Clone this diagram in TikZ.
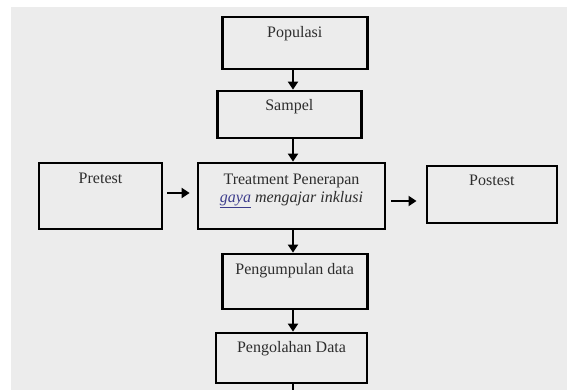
\documentclass[tikz,border=0pt]{standalone}
\usepackage{fontspec}
\setmainfont{Liberation Serif}
\usetikzlibrary{arrows.meta}
\definecolor{bgpage}{RGB}{236,236,236}
\definecolor{txtgray}{RGB}{45,45,45}
\definecolor{spellblue}{RGB}{60,60,140}
\begin{document}
\begin{tikzpicture}[x=1pt,y=-1pt,
	box/.style={draw=black,line width=2.8pt,rectangle,inner sep=0pt},
	boxtext/.style={anchor=north,inner sep=0pt,yshift=-11pt,text=txtgray,font=\fontsize{16}{18.5}\selectfont,align=center},
	arr/.style={line width=2.8pt,-{Triangle[length=8pt,width=10pt]}}]
			% Page
			\useasboundingbox (0,0) rectangle (567,390);
			\fill [bgpage] (11,7) rectangle (567,390);
			
			% Boxes
			\node [box,minimum width=145pt,minimum height=52pt,label={[boxtext]north:Populasi}] (pop) at (294.8,43) {};
			\node [box,minimum width=144pt,minimum height=47pt,label={[boxtext,yshift=1pt]north:Sampel}] (samp) at (289.3,114.5) {};
			\node [box,minimum width=123pt,minimum height=66pt,label={[boxtext]north:Pretest}] (pre) at (100.5,196) {};
			\node [box,minimum width=187pt,minimum height=66pt,label={[boxtext,yshift=-1pt]north:{Treatment Penerapan\\\textit{\textcolor{spellblue}{\underline{gaya}} mengajar inklusi}}}] (treat) at (291.5,196) {};
			\node [box,minimum width=130pt,minimum height=57pt,label={[boxtext,yshift=1pt]north:Postest}] (post) at (491.9,194.5) {};
			\node [box,minimum width=145pt,minimum height=55pt,label={[boxtext]north:Pengumpulan data}] (kumpul) at (294.7,281.5) {};
			\node [box,minimum width=151pt,minimum height=50pt,label={[boxtext,yshift=1pt]north:Pengolahan Data}] (olah) at (291.5,358) {};
			
			% Arrows
			\coordinate (mid) at (293,0);
			\coordinate (end) at (293,392);
			\draw [arr] (pop.south -| mid) -- (samp.north -| mid);
			\draw [arr] (samp.south -| mid) -- (treat.north -| mid);
			\draw [arr,shorten <=4pt,shorten >=7pt] (pre.east |- 0,193) -- (treat.west |- 0,193);
			\draw [arr,shorten <=5pt,shorten >=9pt] (treat.east |- 0,201) -- (post.west |- 0,201);
			\draw [arr] (treat.south -| mid) -- (kumpul.north -| mid);
			\draw [arr] (kumpul.south -| mid) -- (olah.north -| mid);
			\draw [line width=2.8pt] (olah.south -| mid) -- (end);
			\end{tikzpicture}
\end{document}
